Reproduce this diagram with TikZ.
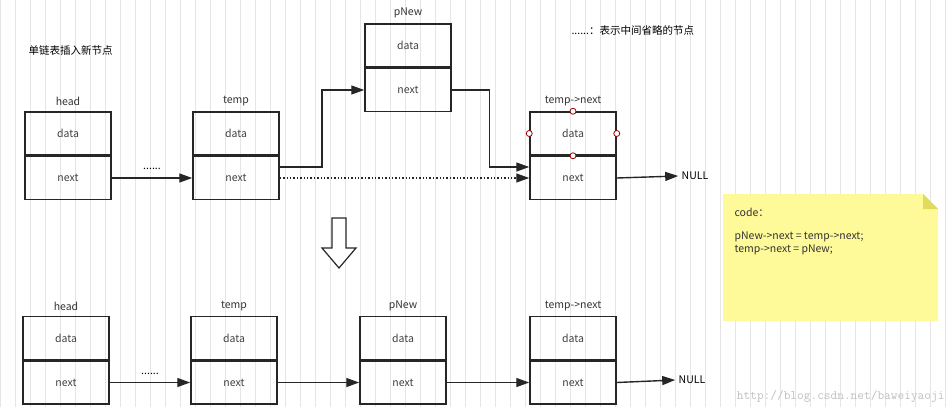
\documentclass[tikz,border=0pt]{standalone}
\usepackage{fontspec}
\setmainfont{Noto Sans CJK SC}
\usetikzlibrary{arrows.meta,positioning,calc}
\tikzset{
  font=\fontsize{10.5}{13}\selectfont,
  cell/.style={
    draw=black!85,
    line width=1.5pt,
    minimum width=86pt,
    minimum height=43pt,
    inner sep=0pt,
    text=black!75
  },
  lbl/.style={text=black!80, inner sep=1pt},
  arrow/.style={-{Triangle[length=13pt,width=9pt]}, line width=1.4pt, draw=black!85},
  dotarrow/.style={arrow, dotted},
  port/.style={circle, draw=red!60!black, fill=white, minimum size=6pt, inner sep=0pt, line width=0.8pt}
}
\begin{document}
\begin{tikzpicture}[x=1pt,y=-1pt]
\useasboundingbox (0,0) rectangle (950,407);
\draw[black!10, line width=0.6pt, step=15] (0,0) grid (950,407);

\node[anchor=west] (title) at (25,50) {单链表插入新节点};
\node[anchor=west] (hint) at (568,30) {......：表示中间省略的节点};

% top list
\node[cell] (hd) at (68,133.5) {data};
\node[cell, below=0pt of hd] (hn) {next};
\node[cell] (td) at (236,133.5) {data};
\node[cell, below=0pt of td] (tn) {next};
\node[cell] (pd) at (408,45.5) {data};
\node[cell, below=0pt of pd] (pn) {next};
\node[cell] (xd) at (573,133.5) {data};
\node[cell, below=0pt of xd] (xn) {next};

\node[lbl, above=4pt of hd] {head};
\node[lbl, above=4pt of td] {temp};
\node[lbl, above=4pt of pd] {pNew};
\node[lbl, above=4pt of xd] {temp->next};
\node (null1) at (695,176) {NULL};

\draw[arrow] (hn.east) -- node[above=4pt] {......} (tn.west);
\draw[arrow] ([yshift=11pt]tn.east) -| ($(tn.east)!0.5!(pn.west)+(0,-11)$) |- (pn.west);
\draw[arrow] (pn.east) -- ++(38,0) |- ([yshift=11pt]xn.west);
\draw[dotarrow] (tn.east) -- (xn.west);
\draw[arrow] (xn.east) -- (null1.west);

\node[port] at (xd.north) {};
\node[port] at (xd.west) {};
\node[port] at (xd.east) {};
\node[port] at (xd.south) {};

% hollow arrow
\draw[black!85, line width=1.2pt, fill=white] (332,218) -- (346,218) -- (346,248) -- (356,248)
  -- (339,268) -- (322,248) -- (332,248) -- cycle;

% bottom list
\node[cell] (bhd) at (66,338) {data};
\node[cell, below=0pt of bhd] (bhn) {next};
\node[cell] (btd) at (234,338) {data};
\node[cell, below=0pt of btd] (btn) {next};
\node[cell] (bpd) at (403,338) {data};
\node[cell, below=0pt of bpd] (bpn) {next};
\node[cell] (bxd) at (573,338) {data};
\node[cell, below=0pt of bxd] (bxn) {next};

\node[lbl, above=4pt of bhd] {head};
\node[lbl, above=4pt of btd] {temp};
\node[lbl, above=4pt of bpd] {pNew};
\node[lbl, above=4pt of bxd] {temp->next};
\node (null2) at (692,380) {NULL};

\draw[arrow] (bhn.east) -- node[above=4pt] {......} (btn.west);
\draw[arrow] (btn.east) -- (bpn.west);
\draw[arrow] (bpn.east) -- (bxn.west);
\draw[arrow] (bxn.east) -- (null2.west);

% code note
\fill[yellow!40!white] (723,194) -- (923,194) -- (938,209) -- (938,321) -- (723,321) -- cycle;
\fill[yellow!55!olive!60] (923,194) -- (938,209) -- (923,209) -- cycle;
\node[anchor=north west, align=left, text=black!80] (code) at (731,205)
  {code：\\[10pt]pNew->next = temp->next;\\temp->next = pNew;};

\node[anchor=south east, text=black!25, font=\ttfamily\fontsize{13}{13}\selectfont] (mark) at (948,406) {http://blog.csdn.net/baweiyaoji};
\end{tikzpicture}
\end{document}
